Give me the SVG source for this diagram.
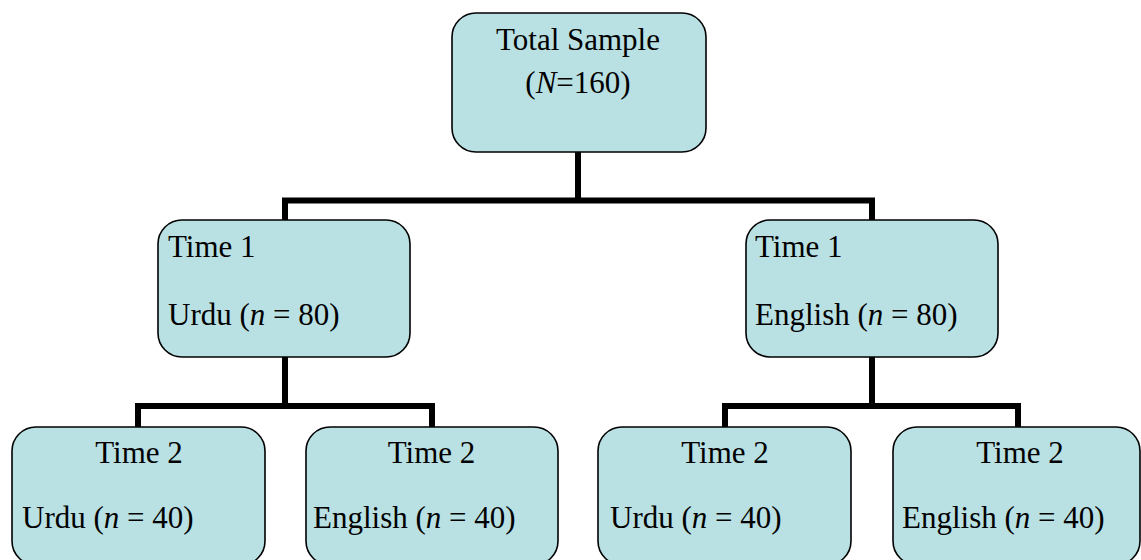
<svg xmlns="http://www.w3.org/2000/svg" width="1141" height="560" viewBox="0 0 1141 560">
  <style>
    .box { fill: #b9e0e3; stroke: #000; stroke-width: 1.6; }
    .wire { fill: none; stroke: #000; stroke-width: 6; stroke-linejoin: miter; stroke-linecap: butt; }
    text { font-family: "Liberation Serif", "Times New Roman", serif; font-size: 31px; fill: #000; }
    .c { text-anchor: middle; }
    .i { font-style: italic; }
  </style>
  <rect width="1141" height="560" fill="#fff"/>

  <!-- tree connectors -->
  <g id="connectors">
    <path class="wire" d="M578 152 V200.5"/>
    <path class="wire" d="M285 221 V200.5 H872 V221"/>
    <path class="wire" d="M285 357 V406"/>
    <path class="wire" d="M138 427 V406 H432 V427"/>
    <path class="wire" d="M872 357 V406"/>
    <path class="wire" d="M725 427 V406 H1018 V427"/>
  </g>

  <!-- root -->
  <g id="total">
    <rect class="box" x="452" y="13" width="254" height="139" rx="24"/>
    <text class="c" x="578" y="50">Total Sample</text>
    <text class="c" x="578" y="93">(<tspan class="i">N</tspan>=160)</text>
  </g>

  <!-- first wave -->
  <g id="t1-urdu">
    <rect class="box" x="158" y="220" width="252" height="137" rx="24"/>
    <text x="168" y="257">Time 1</text>
    <text x="168" y="325">Urdu (<tspan class="i">n</tspan> = 80)</text>
  </g>
  <g id="t1-english">
    <rect class="box" x="746" y="220" width="252" height="137" rx="24"/>
    <text x="755" y="257">Time 1</text>
    <text x="755" y="325">English (<tspan class="i">n</tspan> = 80)</text>
  </g>

  <!-- second wave -->
  <g id="t2-urdu-urdu">
    <rect class="box" x="12" y="427" width="253" height="138" rx="24"/>
    <text class="c" x="139" y="463">Time 2</text>
    <text x="22" y="528">Urdu (<tspan class="i">n</tspan> = 40)</text>
  </g>
  <g id="t2-urdu-english">
    <rect class="box" x="306" y="427" width="252" height="138" rx="24"/>
    <text class="c" x="431.5" y="463">Time 2</text>
    <text x="313" y="528">English (<tspan class="i">n</tspan> = 40)</text>
  </g>
  <g id="t2-english-urdu">
    <rect class="box" x="598" y="427" width="253" height="138" rx="24"/>
    <text class="c" x="725" y="463">Time 2</text>
    <text x="610" y="528">Urdu (<tspan class="i">n</tspan> = 40)</text>
  </g>
  <g id="t2-english-english">
    <rect class="box" x="893" y="427" width="247" height="138" rx="24"/>
    <text class="c" x="1020" y="463">Time 2</text>
    <text x="902" y="528">English (<tspan class="i">n</tspan> = 40)</text>
  </g>
</svg>
